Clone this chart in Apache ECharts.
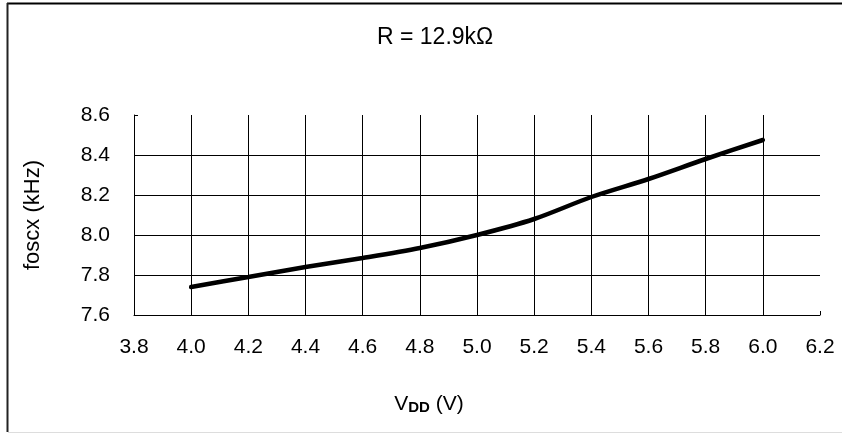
<!DOCTYPE html>
<html>
<head>
<meta charset="utf-8">
<script src="https://cdn.jsdelivr.net/npm/echarts@6/dist/echarts.min.js"></script>
<style>html,body{margin:0;padding:0;background:#fff}#c{width:842px;height:434px}</style>
</head>
<body>
<div id="c"></div>
<script>
var vdd = [4.0, 4.2, 4.4, 4.6, 4.8, 5.0, 5.2, 5.4, 5.6, 5.8, 6.0];
var foscx = [7.74, 7.79, 7.84, 7.885, 7.935, 8.0, 8.08, 8.19, 8.28, 8.38, 8.475];
var titleText = 'R = 12.9k\u03A9';
var yName = 'foscx (kHz)';

var chart = echarts.init(document.getElementById('c'));
var font = 'Liberation Sans, Arial, sans-serif';
chart.setOption({
  backgroundColor: '#fff',
  animation: false,
  title: {
    text: titleText, left: 372, top: 21,
    textStyle: { fontFamily: font, fontSize: 23, fontWeight: 'normal', color: '#000' }
  },
  grid: { left: 134, right: 22, top: 115, bottom: 119 },
  xAxis: {
    type: 'value', min: 3.8, max: 6.2, interval: 0.2,
    axisLine: { show: true, lineStyle: { color: '#000', width: 1 } },
    axisTick: { show: true, inside: true, length: 4, lineStyle: { color: '#000' } },
    axisLabel: { fontFamily: font, fontSize: 21, color: '#000', margin: 22,
      formatter: function (v) { return v.toFixed(1); } },
    splitLine: { show: true, showMinLine: false, showMaxLine: false, lineStyle: { color: '#000', width: 1 } },
    name: '{v|V}{d|DD}{v| (V)}',
    nameLocation: 'middle', nameGap: 76,
    nameTextStyle: {
      padding: [0, 96, 0, 0],
      rich: {
        v: { fontFamily: font, fontSize: 21, color: '#000', verticalAlign: 'bottom', lineHeight: 24 },
        d: { fontFamily: font, fontSize: 15, fontWeight: 'bold', color: '#000', verticalAlign: 'bottom', lineHeight: 20 }
      }
    }
  },
  yAxis: {
    type: 'value', min: 7.6, max: 8.6, interval: 0.2,
    axisLine: { show: true, lineStyle: { color: '#000', width: 1 } },
    axisTick: { show: true, inside: true, length: 4, lineStyle: { color: '#000' } },
    axisLabel: { fontFamily: font, fontSize: 21, color: '#000', margin: 24,
      formatter: function (v) { return v.toFixed(1); } },
    splitLine: { show: true, showMinLine: false, showMaxLine: false, lineStyle: { color: '#000', width: 1 } },
    name: yName, nameLocation: 'middle', nameGap: 90,
    nameTextStyle: { fontFamily: font, fontSize: 22, color: '#000' }
  },
  series: [{
    type: 'line', data: vdd.map(function (x, i) { return [x, foscx[i]]; }),
    smooth: 0.3, symbol: 'none',
    lineStyle: { color: '#000', width: 4.5, cap: 'round' }
  }],
  graphic: [
    { type: 'line', shape: { x1: 7, y1: 3.5, x2: 842, y2: 3.5 }, style: { stroke: '#000', lineWidth: 2 } },
    { type: 'line', shape: { x1: 7.5, y1: 3, x2: 7.5, y2: 432 }, style: { stroke: '#222', lineWidth: 2 } },
    { type: 'line', shape: { x1: 8, y1: 432.5, x2: 842, y2: 432.5 }, style: { stroke: '#ddd', lineWidth: 1 } }
  ]
});
</script>
</body>
</html>
